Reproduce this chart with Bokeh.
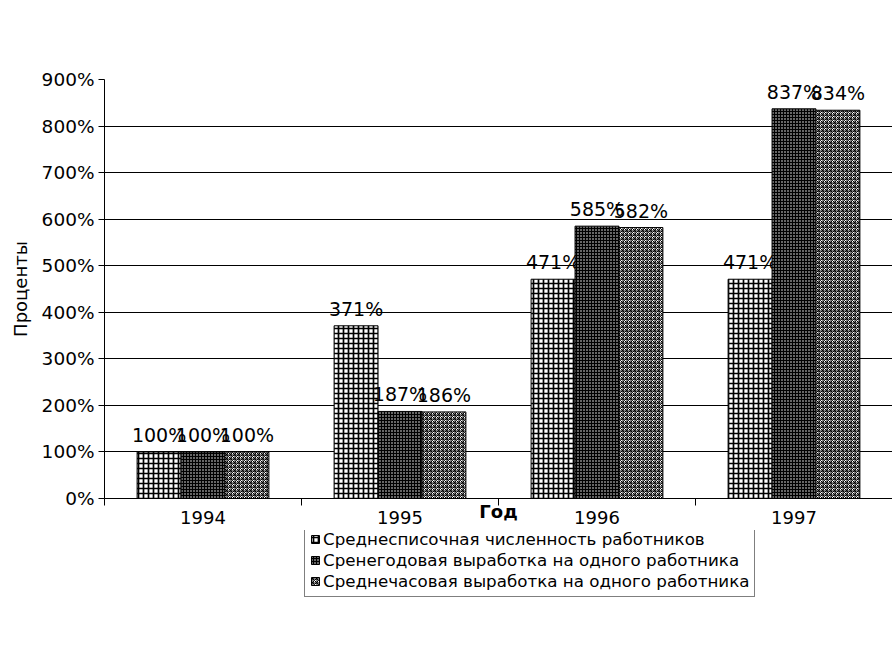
from bokeh.plotting import figure
from bokeh.layouts import column
from bokeh.models import (ColumnDataSource, FixedTicker, Range1d, Legend, LegendItem, Grid)
from bokeh.core.properties import value
from bokeh.embed import file_html
from bokeh.resources import INLINE

years = ["1994", "1995", "1996", "1997"]
series_names = [
    "Среднесписочная численность работников",
    "Сренегодовая выработка на одного работника",
    "Среднечасовая выработка на одного работника",
]
s1 = [100, 371, 471, 471]
s2 = [100, 187, 585, 837]
s3 = [100, 186, 582, 834]
y_ticks = [0, 100, 200, 300, 400, 500, 600, 700, 800, 900]

FONT = "DejaVu Sans"
W, H = 892, 530

p = figure(width=W, height=H, output_backend="svg", toolbar_location=None,
           x_range=Range1d(0, len(years)), y_range=Range1d(0, 900),
           min_border_left=104, min_border_right=0, min_border_top=79,
           min_border_bottom=32)
p.outline_line_color = None
p.background_fill_color = "white"
p.border_fill_color = "white"

# axes
p.xaxis.ticker = FixedTicker(ticks=[i + 0.5 for i in range(len(years))],
                             minor_ticks=list(range(len(years) + 1)))
p.xaxis.major_label_overrides = {i + 0.5: y for i, y in enumerate(years)}
p.xaxis.major_tick_line_color = None
p.xaxis.minor_tick_line_color = "black"
p.xaxis.minor_tick_out = 7
p.xaxis.minor_tick_in = 0
p.xaxis.axis_line_color = "black"
p.xaxis.major_label_text_font = FONT
p.xaxis.major_label_text_font_size = "18px"
p.xaxis.major_label_text_color = "black"
p.xaxis.major_label_standoff = 5
p.xaxis.axis_label = "Год"
p.xaxis.axis_label_text_font = FONT
p.xaxis.axis_label_text_font_size = "18px"
p.xaxis.axis_label_text_font_style = "bold"
p.xaxis.axis_label_text_color = "black"
p.xaxis.axis_label_standoff = -26

p.yaxis.ticker = FixedTicker(ticks=y_ticks, minor_ticks=[])
p.yaxis.major_label_overrides = {v: f"{v}%" for v in y_ticks}
p.yaxis.major_tick_out = 6
p.yaxis.major_tick_in = 0
p.yaxis.major_tick_line_color = "black"
p.yaxis.axis_line_color = "black"
p.yaxis.major_label_text_font = FONT
p.yaxis.major_label_text_font_size = "18.5px"
p.yaxis.major_label_text_color = "black"
p.yaxis.major_label_standoff = 4
p.yaxis.axis_label = "Проценты"
p.yaxis.axis_label_text_font = FONT
p.yaxis.axis_label_text_font_size = "18px"
p.yaxis.axis_label_text_font_style = "normal"
p.yaxis.axis_label_text_color = "black"
p.yaxis.axis_label_standoff = 8

p.xgrid.grid_line_color = None
p.ygrid.grid_line_color = "black"
p.ygrid.grid_line_width = 1

bw = 0.223
offsets = [-bw, 0, bw]
styles = [
    dict(fill_color="white", hatch_pattern="cross", hatch_color="black", hatch_scale=5, hatch_weight=1.7),
    dict(fill_color="black", hatch_pattern="dot", hatch_color="white", hatch_scale=3, hatch_weight=1),
    dict(fill_color="white", hatch_pattern="criss_cross", hatch_color="black", hatch_scale=4, hatch_weight=1),
]

# legend figure (below the chart); its swatch renderers lie far off-canvas
lg = figure(width=W, height=70, output_backend="svg", toolbar_location=None,
            x_range=Range1d(0, len(years)), y_range=Range1d(0, 1),
            x_axis_location=None, y_axis_location=None,
            min_border=0, min_border_left=0, min_border_right=0,
            min_border_top=0, min_border_bottom=0)
lg.outline_line_color = None
lg.border_fill_color = "white"
lg.background_fill_color = "white"
for obj in list(lg.center) + list(lg.renderers):
    if isinstance(obj, Grid):
        obj.visible = False
lg.xgrid.visible = False
lg.ygrid.visible = False

items = []
for k, (vals, name) in enumerate(zip([s1, s2, s3], series_names)):
    xs = [i + 0.5 + offsets[k] for i in range(len(years))]
    src = ColumnDataSource(dict(x=xs, top=vals, lab=[f"{v}%" for v in vals]))
    p.vbar(x="x", top="top", width=bw, source=src, line_color="black",
           line_width=1, **styles[k])
    p.text(x="x", y="top", text="lab", source=src, text_align="center",
           text_baseline="bottom", y_offset=-6, text_font=value(FONT),
           text_font_size="19px", text_color="black")
    swatch = ColumnDataSource(dict(x=[-1000], top=[-1000]))
    r2 = lg.vbar(x="x", top="top", bottom=-1001, width=bw, source=swatch,
                 line_color="black", line_width=1, **styles[k])
    items.append(LegendItem(label=name, renderers=[r2]))

legend = Legend(items=items, location=(200, 3), border_line_color="black",
                border_line_width=1, background_fill_color="white",
                background_fill_alpha=1, label_text_font=FONT,
                label_text_font_size="16.7px", label_text_color="black",
                glyph_width=10, glyph_height=10, label_height=14,
                spacing=1, padding=5, margin=0, label_standoff=3)
lg.add_layout(legend, "center")

layout = column(p, lg, spacing=0)
open("out.html", "w").write(file_html(layout, INLINE))
